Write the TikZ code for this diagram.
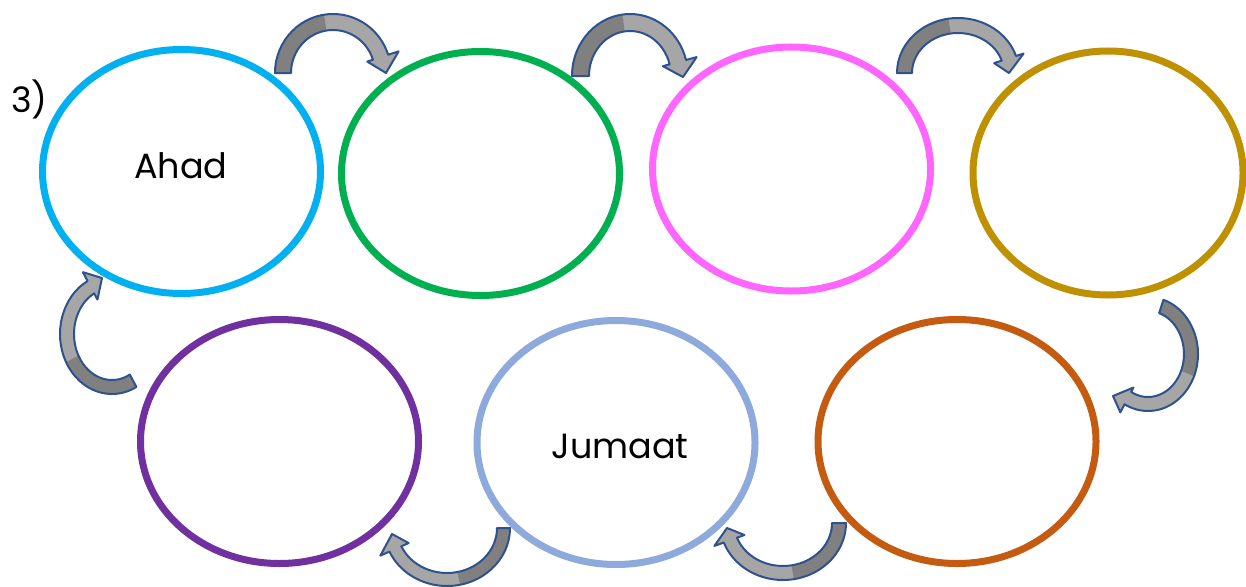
\documentclass[tikz,border=0pt]{standalone}
\usepackage{fontspec}
\setmainfont{Poppins}
\usetikzlibrary{shapes.geometric}
\definecolor{ccyan}{HTML}{00B0F0}
\definecolor{cgreen}{HTML}{00B050}
\definecolor{cmag}{HTML}{FF66FF}
\definecolor{cgold}{HTML}{BF9000}
\definecolor{cpurp}{HTML}{7030A0}
\definecolor{clblue}{HTML}{8EA9DB}
\definecolor{corange}{HTML}{C55A11}
\definecolor{arrdark}{HTML}{808080}
\definecolor{arrlight}{HTML}{A6A6A6}
\definecolor{arredge}{HTML}{2F528F}
\tikzset{
  ring/.style={ellipse, draw=#1, line width=7pt, minimum width=278pt, minimum height=244pt, inner sep=0pt},
  lbl/.style={font=\fontsize{35}{40}\selectfont, text=black, inner sep=0pt, anchor=base}
}
\newcommand\cdims[5]{\def\cRx{#1}\def\cRy{#2}\def\cW{#3}\def\cEo{#4}\def\cEi{#5}}
\newcommand\carrow[6]{%
\begin{scope}[shift={(#1,#2)},yscale=-1]
\pgfmathsetmacro\cRxi{\cRx-\cW}\pgfmathsetmacro\cRyi{\cRy-\cW}%
\pgfmathsetmacro\cRxo{\cRx+\cEo}\pgfmathsetmacro\cRyo{\cRy+\cEo}%
\pgfmathsetmacro\cRxe{\cRxi-\cEi}\pgfmathsetmacro\cRye{\cRyi-\cEi}%
\pgfmathsetmacro\cam{(#3+#4)/2}%
\fill[arrlight] ({\cRx*cos(#3)},{\cRy*sin(#3)}) arc[start angle=#3,end angle=#4,x radius=\cRx,y radius=\cRy]
  -- ({\cRxo*cos(#4)},{\cRyo*sin(#4)}) -- (#5,#6) -- ({\cRxe*cos(#4)},{\cRye*sin(#4)})
  -- ({\cRxi*cos(#4)},{\cRyi*sin(#4)}) arc[start angle=#4,end angle=#3,x radius=\cRxi,y radius=\cRyi] -- cycle;
\fill[arrdark] ({\cRx*cos(#3)},{\cRy*sin(#3)}) arc[start angle=#3,end angle=\cam,x radius=\cRx,y radius=\cRy]
  -- ({\cRxi*cos(\cam)},{\cRyi*sin(\cam)}) arc[start angle=\cam,end angle=#3,x radius=\cRxi,y radius=\cRyi] -- cycle;
\draw[arredge, line width=2pt, line join=round] ({\cRx*cos(#3)},{\cRy*sin(#3)}) arc[start angle=#3,end angle=#4,x radius=\cRx,y radius=\cRy]
  -- ({\cRxo*cos(#4)},{\cRyo*sin(#4)}) -- (#5,#6) -- ({\cRxe*cos(#4)},{\cRye*sin(#4)})
  -- ({\cRxi*cos(#4)},{\cRyi*sin(#4)}) arc[start angle=#4,end angle=#3,x radius=\cRxi,y radius=\cRyi] -- cycle;
\end{scope}}
\begin{document}
\begin{tikzpicture}[x=1pt,y=-1pt]
\useasboundingbox (0,0) rectangle (1246,586);
\fill[white] (0,0) rectangle (1246,586);
% ellipses
\node[ring=ccyan]   (e1) at (181.5,171.5) {};
\node[ring=cgreen]  (e2) at (480.5,173.5) {};
\node[ring=cmag]    (e3) at (791.5,169) {};
\node[ring=cgold, minimum width=270pt] (e4) at (1108,173) {};
\node[ring=cpurp]   (e5) at (279.5,441.5) {};
\node[ring=clblue]  (e6) at (616,442.5) {};
\node[ring=corange] (e7) at (957,441.5) {};
% texts
\node[lbl] (t1) at (181,178) {Ahad};
\node[lbl] (t6) at (620,458) {Jumaat};
\node[lbl, anchor=base west] (num) at (11,112) {3)};
% curved block arrows
\cdims{58}{59}{16}{11}{6}\carrow{333}{73}{180}{18}{53}{0}
\cdims{58}{62}{17}{11}{7}\carrow{630}{76}{180}{15}{53}{-1}
\cdims{61}{55}{15}{8}{8}\carrow{958}{73}{180}{18}{51}{0}
\cdims{50}{57}{14}{9}{5}\carrow{1148}{354}{72}{-118}{-35}{-42}
\cdims{63}{57}{14}{10}{8}\carrow{783}{523}{0}{-160}{-56}{-5}
\cdims{63}{58}{13}{10}{8}\carrow{447}{528}{0}{-156}{-55}{-6}
\cdims{52}{60}{14}{10}{7}\carrow{112}{334}{-62}{-242}{-10}{56}
\end{tikzpicture}
\end{document}
